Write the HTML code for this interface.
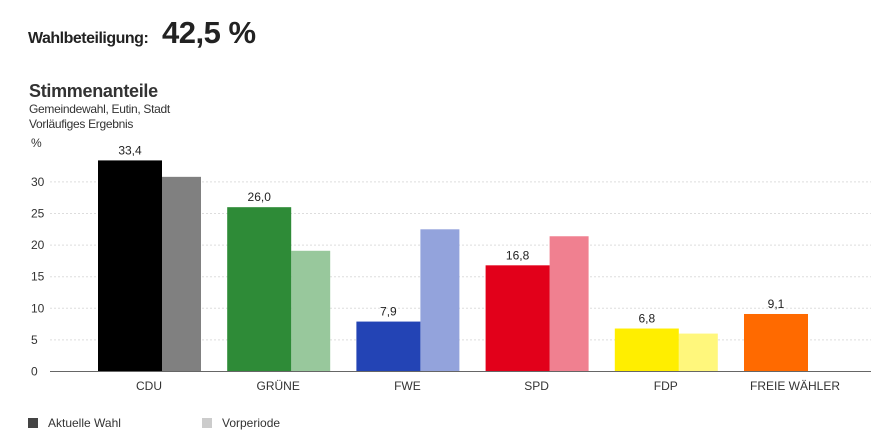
<!DOCTYPE html>
<html><head><meta charset="utf-8"><style>
body{margin:0;width:871px;height:448px;background:#fff;font-family:"Liberation Sans",sans-serif;color:#222;overflow:hidden;position:relative}
.a{position:absolute;white-space:nowrap}
</style></head><body>
<div class="a" style="left:28px;top:30px;font-size:16px;font-weight:bold;letter-spacing:-0.5px">Wahlbeteiligung:</div>
<div class="a" style="left:162px;top:15px;font-size:31px;font-weight:bold;letter-spacing:-0.5px">42,5 %</div>
<div class="a" style="left:29px;top:81px;font-size:18px;font-weight:bold;color:#333;letter-spacing:-0.3px">Stimmenanteile</div>
<div class="a" style="left:29px;top:102px;font-size:12px;color:#333;line-height:15px;letter-spacing:-0.3px">Gemeindewahl, Eutin, Stadt<br>Vorläufiges Ergebnis</div>
<svg id="c" width="871" height="448" style="position:absolute;left:0;top:0" font-family="Liberation Sans, sans-serif"></svg>
<script>
const categories=["CDU","GRÜNE","FWE","SPD","FDP","FREIE WÄHLER"];
const current=[33.4,26.0,7.9,16.8,6.8,9.1];
const previous=[30.8,19.1,22.5,21.4,6.0,null];
const currentLabels=["33,4","26,0","7,9","16,8","6,8","9,1"];
const ticks=[0,5,10,15,20,25,30];
const curColors=["#000000","#2e8b37","#2344b5","#e2001a","#ffee00","#ff6a00"];
const prevColors=["#808080","#98c89c","#93a3dc","#f08090","#fff77c","#ffb480"];
const svg=document.getElementById('c');const NS="http://www.w3.org/2000/svg";
const y0=371.5,ppu=6.32;
const y=v=>y0-v*ppu;
const gx=i=>98+i*129.2;
function mk(t,a,txt){const e=document.createElementNS(NS,t);for(const k in a)e.setAttribute(k,a[k]);if(txt!=null)e.textContent=txt;svg.appendChild(e);return e;}
ticks.forEach(t=>{
 if(t>0){const g=mk('line',{x1:50,x2:871,y1:y(t),y2:y(t),stroke:'#ddd','stroke-dasharray':'2,2'});
 }
 const l=mk('text',{x:31,y:y(t)+4,'font-size':12,fill:'#333'},String(t));
 
});
const pu=mk('text',{x:31,y:147,'font-size':12,fill:'#333'},'%');

categories.forEach((c,i)=>{
 const x=gx(i);
 if(previous[i]!=null){const p=mk('rect',{x:x+64,y:y(previous[i]),width:39,height:previous[i]*ppu,fill:prevColors[i]});
 }
 const b=mk('rect',{x:x,y:y(current[i]),width:64,height:current[i]*ppu,fill:curColors[i]});
 
 const v=mk('text',{x:x+32,y:y(current[i])-6,'font-size':12,'text-anchor':'middle',fill:'#222'},currentLabels[i]);
 
 const cl=mk('text',{x:x+51,y:390,'font-size':12,'text-anchor':'middle',fill:'#333'},c);
 
});
const ax=mk('line',{x1:50,x2:871,y1:y0,y2:y0,stroke:'#666','stroke-width':1});

</script>
<div class="a" style="left:28px;top:416px;font-size:12px;color:#333"><span style="display:inline-block;width:10px;height:10px;background:#444;margin-right:10px;vertical-align:-1px"></span>Aktuelle Wahl</div>
<div class="a" style="left:202px;top:416px;font-size:12px;color:#333"><span style="display:inline-block;width:10px;height:10px;background:#ccc;margin-right:10px;vertical-align:-1px"></span>Vorperiode</div>
</body></html>
